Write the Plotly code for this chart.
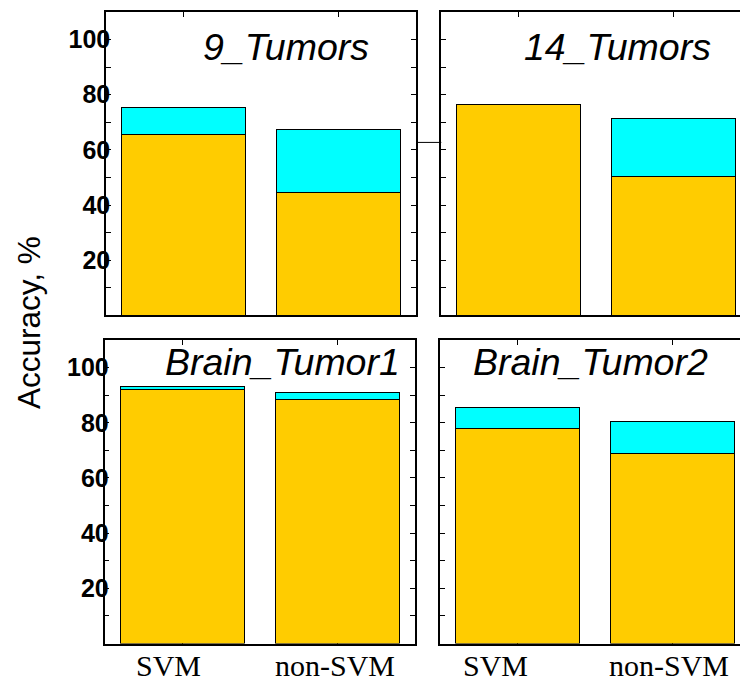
import plotly.graph_objects as go

# ---- data ----
datasets = ["9_Tumors", "14_Tumors", "Brain_Tumor1", "Brain_Tumor2"]
methods = ["SVM", "non-SVM"]
base_acc = {  # yellow part
    "9_Tumors": [65.5, 44.5],
    "14_Tumors": [76.5, 50.4],
    "Brain_Tumor1": [92.2, 88.5],
    "Brain_Tumor2": [78.0, 68.7],
}
total_acc = {  # top of cyan part
    "9_Tumors": [75.3, 67.5],
    "14_Tumors": [76.5, 71.4],
    "Brain_Tumor1": [93.0, 91.0],
    "Brain_Tumor2": [85.7, 80.6],
}
y_tickvals = [10, 20, 30, 40, 50, 60, 70, 80, 90, 100]
y_ticktext = ["", "20", "", "40", "", "60", "", "80", "", "100"]
connector_value = 62.7

W, H = 740, 679
def fx(p):
    return p / W
def fy(p):
    return 1 - p / H

# panel pixel boxes (left, right, top, bottom)
boxes = [
    (106, 416, 12, 315.3),
    (441.3, 740, 12, 315.3),
    (104.5, 414.5, 340, 643.5),
    (440.3, 740, 340, 643.5),
]
title_pos = [(285.5, 47), (617.5, 47), (282, 362), (590.5, 362)]
YEL = "#FFCC00"
CYA = "#00FFFF"

fig = go.Figure()
layout = dict(
    width=W, height=H, margin=dict(l=0, r=0, t=0, b=0),
    paper_bgcolor="white", plot_bgcolor="white",
    barmode="stack", showlegend=False,
    font=dict(family="Liberation Sans, Arial", color="black"),
)
annotations = []
for i, name in enumerate(datasets):
    k = "" if i == 0 else str(i + 1)
    l, r, t, b = boxes[i]
    is_left = i % 2 == 0
    span = (r - l) / 155.0
    cyan_part = [tt - bb for tt, bb in zip(total_acc[name], base_acc[name])]
    fig.add_trace(go.Bar(x=methods, y=base_acc[name], width=0.8,
                         marker=dict(color=YEL, line=dict(color="black", width=1)),
                         xaxis="x" + k, yaxis="y" + k))
    fig.add_trace(go.Bar(x=methods, y=cyan_part, width=0.8,
                         marker=dict(color=CYA, line=dict(color="black", width=1)),
                         xaxis="x" + k, yaxis="y" + k))
    layout["xaxis" + k] = dict(
        domain=[fx(l), min(1, fx(r))], anchor="y" + k, type="category",
        range=[-0.5, -0.5 + span], showticklabels=False,
        ticks="inside", ticklen=5, tickcolor="black", tickwidth=1,
        showline=True, linecolor="black", linewidth=1.5, mirror="ticks",
        showgrid=False, zeroline=False, layer="below traces",
    )
    layout["yaxis" + k] = dict(
        domain=[fy(b), fy(t)], anchor="x" + k, range=[0, 110],
        tickvals=y_tickvals, ticktext=y_ticktext, showticklabels=is_left,
        tickfont=dict(size=25, weight="bold", family="Liberation Sans, Arial"),
        ticklabelstandoff=-11,
        ticks="inside", ticklen=5, tickcolor="black", tickwidth=1,
        showline=True, linecolor="black", linewidth=1.5,
        mirror="ticks" if is_left else False,
        showgrid=False, zeroline=False,
    )
    tx, ty = title_pos[i]
    annotations.append(dict(text="<i>%s</i>" % name, x=fx(tx), y=fy(ty),
                            xref="paper", yref="paper", showarrow=False,
                            xanchor="center", yanchor="middle",
                            font=dict(size=37.5, family="Liberation Sans, Arial")))

# x category labels under bottom panels
label_shift = {("x3", "SVM"): -14, ("x3", "non-SVM"): -2.5,
               ("x4", "SVM"): -22, ("x4", "non-SVM"): -4}
for ax, yax in (("x3", "y3"), ("x4", "y4")):
    for m in methods:
        annotations.append(dict(text=m, x=m, y=0, xref=ax, yref=yax,
                                showarrow=False, xanchor="center", yanchor="top",
                                xshift=label_shift[(ax, m)], yshift=-3,
                                font=dict(size=30, family="Liberation Serif, Times New Roman")))

annotations.append(dict(text="Accuracy, %", x=fx(29), y=fy(323), xref="paper", yref="paper",
                        showarrow=False, textangle=-90, xanchor="center", yanchor="middle",
                        font=dict(size=31.5, family="Liberation Sans, Arial")))
layout["annotations"] = annotations
layout["shapes"] = [dict(type="line", xref="paper", yref="y", x0=fx(416.5), x1=fx(441.3),
                         y0=connector_value, y1=connector_value,
                         line=dict(color="black", width=1))]
fig.update_layout(**layout)
fig.write_html("out.html", config={"displayModeBar": False},
               post_script="document.body.style.margin='0';document.body.style.overflow='hidden';")
